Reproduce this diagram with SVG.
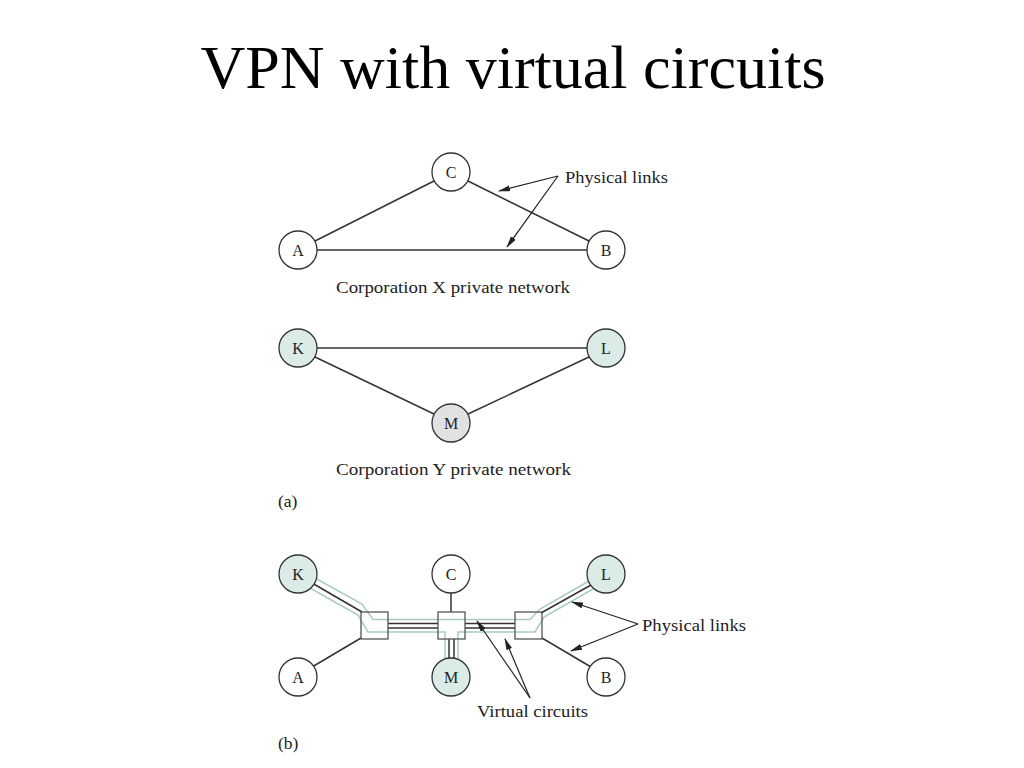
<svg xmlns="http://www.w3.org/2000/svg" width="1024" height="768" viewBox="0 0 1024 768">
<style>
.title{font-family:"Liberation Serif","Times New Roman",serif;font-size:62px;fill:#000}
.lbl{font-family:"Liberation Serif","DejaVu Serif",serif;font-size:17.5px;fill:#222}
.nl{font-family:"Liberation Serif","DejaVu Serif",serif;font-size:16px;fill:#222;text-anchor:middle}
.node{stroke:#333;stroke-width:1.3;fill:#fff}
.teal{fill:#dbebe7}
.grey{fill:#e1e1e1}
.link{stroke:#333;stroke-width:1.5;fill:none}
.vc{stroke:#a9cbc4;stroke-width:1.5;fill:none}
.arr{stroke:#222;stroke-width:1.2;fill:none;marker-end:url(#ah)}
.sw{stroke:#555;stroke-width:1.3;fill:none}
</style>
<defs>
<marker id="ah" markerUnits="userSpaceOnUse" markerWidth="12" markerHeight="6" refX="11" refY="3" orient="auto">
<path d="M0,0 L12,3 L0,6 z" fill="#222"/>
</marker>
</defs>
<rect width="1024" height="768" fill="#fff"/>
<text class="title" x="513" y="88" text-anchor="middle">VPN with virtual circuits</text>

<g id="connectors">
<!-- (a) Corporation X -->
<line class="link" x1="315" y1="241" x2="434" y2="181"/>
<line class="link" x1="468" y1="181" x2="589" y2="241"/>
<line class="link" x1="317" y1="250" x2="587" y2="250"/>
<!-- (a) Corporation Y -->
<line class="link" x1="317" y1="348" x2="587" y2="348"/>
<line class="link" x1="315" y1="357" x2="434" y2="414"/>
<line class="link" x1="589" y1="357" x2="468" y2="414"/>
<!-- (a) arrows -->
<line class="arr" x1="558" y1="176" x2="499" y2="191"/>
<line class="arr" x1="558" y1="176" x2="507" y2="247"/>

<!-- (b) switches fill -->
<rect x="361" y="612" width="27" height="27" fill="#fff"/>
<rect x="438" y="612" width="27" height="27" fill="#fff"/>
<rect x="515" y="612" width="27" height="27" fill="#fff"/>
<!-- (b) virtual circuits -->
<polyline class="vc" points="315,578 362,604 373,619.5 530,619.5 540,609 589,581"/>
<polyline class="vc" points="310,588 358,615 368,632 445,632 445,659"/>
<polyline class="vc" points="593,589 544,617 535,632 458,632 458,659"/>
<!-- (b) physical links -->
<line class="link" x1="312" y1="583" x2="362" y2="612"/>
<line class="link" x1="388" y1="623.5" x2="438" y2="623.5"/>
<line class="link" x1="388" y1="628" x2="438" y2="628"/>
<line class="link" x1="465" y1="623.5" x2="515" y2="623.5"/>
<line class="link" x1="465" y1="628" x2="515" y2="628"/>
<line class="link" x1="449" y1="639" x2="449" y2="658"/>
<line class="link" x1="454" y1="639" x2="454" y2="658"/>
<line class="link" x1="541" y1="613" x2="591" y2="585"/>
<line class="link" x1="312" y1="667" x2="361" y2="638"/>
<line class="link" x1="451" y1="593" x2="451" y2="612"/>
<line class="link" x1="542" y1="638" x2="591" y2="667"/>
<!-- (b) arrows -->
<line class="arr" x1="638" y1="624" x2="572" y2="602"/>
<line class="arr" x1="638" y1="624" x2="571" y2="651"/>
<line class="arr" x1="530" y1="698" x2="477" y2="621"/>
<line class="arr" x1="530" y1="698" x2="505" y2="639"/>
</g>

<!-- (a) nodes -->
<g id="a-C"><circle class="node" cx="451" cy="172" r="19"/><text class="nl" x="451" y="177.5">C</text></g>
<g id="a-A"><circle class="node" cx="298" cy="250" r="19"/><text class="nl" x="298" y="255.5">A</text></g>
<g id="a-B"><circle class="node" cx="606" cy="250" r="19"/><text class="nl" x="606" y="255.5">B</text></g>
<g id="a-K"><circle class="node teal" cx="298" cy="348" r="19"/><text class="nl" x="298" y="353.5">K</text></g>
<g id="a-L"><circle class="node teal" cx="606" cy="348" r="19"/><text class="nl" x="606" y="353.5">L</text></g>
<g id="a-M"><circle class="node grey" cx="451" cy="423" r="19"/><text class="nl" x="451" y="428.5">M</text></g>

<!-- (b) switches -->
<g id="sw-left"><rect class="sw" x="361" y="612" width="27" height="27"/></g>
<g id="sw-mid"><rect class="sw" x="438" y="612" width="27" height="27"/></g>
<g id="sw-right"><rect class="sw" x="515" y="612" width="27" height="27"/></g>

<!-- (b) nodes -->
<g id="b-K"><circle class="node teal" cx="298" cy="574" r="19"/><text class="nl" x="298" y="579.5">K</text></g>
<g id="b-C"><circle class="node" cx="451" cy="574" r="19"/><text class="nl" x="451" y="579.5">C</text></g>
<g id="b-L"><circle class="node teal" cx="606" cy="574" r="19"/><text class="nl" x="606" y="579.5">L</text></g>
<g id="b-A"><circle class="node" cx="298" cy="677" r="19"/><text class="nl" x="298" y="682.5">A</text></g>
<g id="b-M"><circle class="node teal" cx="451" cy="677" r="19"/><text class="nl" x="451" y="682.5">M</text></g>
<g id="b-B"><circle class="node" cx="606" cy="677" r="19"/><text class="nl" x="606" y="682.5">B</text></g>

<!-- labels -->
<text class="lbl" x="565" y="183" textLength="103" lengthAdjust="spacingAndGlyphs">Physical links</text>
<text class="lbl" x="336" y="293" textLength="234" lengthAdjust="spacingAndGlyphs">Corporation X private network</text>
<text class="lbl" x="336" y="475" textLength="235" lengthAdjust="spacingAndGlyphs">Corporation Y private network</text>
<text class="lbl" x="278" y="507">(a)</text>
<text class="lbl" x="642" y="631" textLength="104" lengthAdjust="spacingAndGlyphs">Physical links</text>
<text class="lbl" x="477" y="717" textLength="111" lengthAdjust="spacingAndGlyphs">Virtual circuits</text>
<text class="lbl" x="278" y="749">(b)</text>
</svg>
